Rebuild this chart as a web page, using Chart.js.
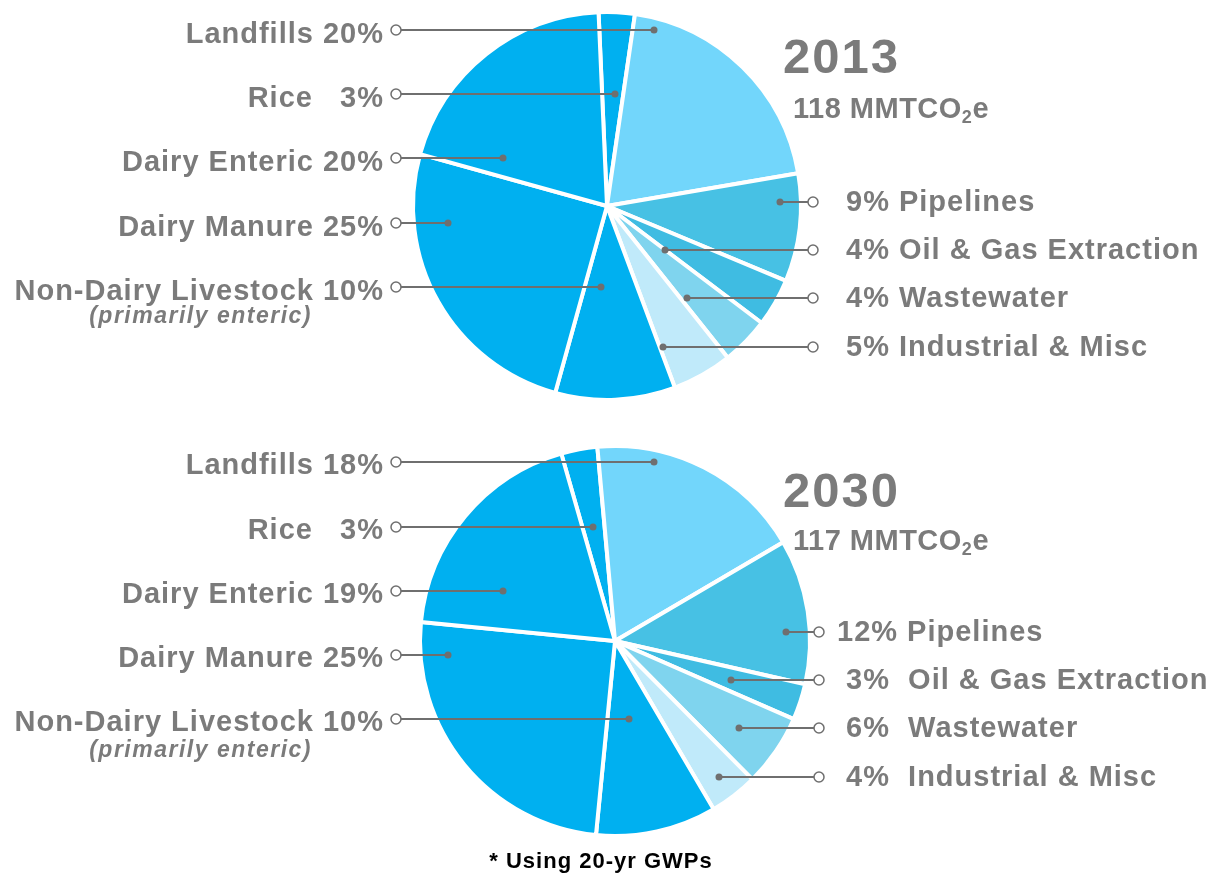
<!DOCTYPE html>
<html>
<head>
<meta charset="utf-8">
<title>California methane emissions 2013 / 2030</title>
<script src="https://cdn.jsdelivr.net/npm/chart.js@4"></script>
<style>
  html, body { margin: 0; padding: 0; background: #fff; }
  #wrap { position: relative; width: 1219px; height: 873px; }
  #wrap canvas { position: absolute; left: 0; top: 0; }
</style>
</head>
<body>
<div id="wrap">
  <canvas id="pie2013" width="1219" height="873"></canvas>
  <canvas id="pie2030" width="1219" height="873"></canvas>
</div>
<script>
// slices go clockwise from roughly 12 o'clock
const categories = ['Rice', 'Landfills', 'Pipelines', 'Oil & Gas Extraction', 'Wastewater',
                    'Industrial & Misc', 'Non-Dairy Livestock', 'Dairy Manure', 'Dairy Enteric'];
const values2013 = [3, 20, 9, 4, 4, 5, 10, 25, 20];
const values2030 = [3, 18, 12, 3, 6, 4, 10, 25, 19];
const years = ['2013', '2030'];
const totals = [118, 117];
const sliceColors = ['#00b0f0', '#72d6fb', '#47c1e4', '#3fbce2', '#7fd4ee',
                     '#c0eafa', '#00b0f0', '#00b0f0', '#00b0f0'];

const textGrey = '#7b7b7b';
const lineGrey = '#6f6f6f';
const labelFont = 'bold 29px "Liberation Sans", Arial, sans-serif';

// leader lines: dot offset from the pie centre, label on the left or right
const leaders2013 = [
  { i: 1, side: 'left',  dx: 47,   dy: -176, gap: ' ' },
  { i: 0, side: 'left',  dx: 8,    dy: -112, gap: '   ' },
  { i: 8, side: 'left',  dx: -104, dy: -48,  gap: ' ' },
  { i: 7, side: 'left',  dx: -159, dy: 17,   gap: ' ' },
  { i: 6, side: 'left',  dx: -6,   dy: 81,   gap: ' ', note: '(primarily enteric)' },
  { i: 2, side: 'right', dx: 173,  dy: -4,   gap: ' ', lead: '' },
  { i: 3, side: 'right', dx: 58,   dy: 44,   gap: ' ', lead: '' },
  { i: 4, side: 'right', dx: 80,   dy: 92,   gap: ' ', lead: '' },
  { i: 5, side: 'right', dx: 56,   dy: 141,  gap: ' ', lead: '' }
];
const leaders2030 = [
  { i: 1, side: 'left',  dx: 39,   dy: -179, gap: ' ' },
  { i: 0, side: 'left',  dx: -22,  dy: -114, gap: '   ' },
  { i: 8, side: 'left',  dx: -112, dy: -50,  gap: ' ' },
  { i: 7, side: 'left',  dx: -167, dy: 14,   gap: ' ' },
  { i: 6, side: 'left',  dx: 14,   dy: 78,   gap: ' ', note: '(primarily enteric)' },
  { i: 2, side: 'right', dx: 171,  dy: -9,   gap: ' ', lead: '' },
  { i: 3, side: 'right', dx: 116,  dy: 39,   gap: '  ', lead: ' ' },
  { i: 4, side: 'right', dx: 124,  dy: 87,   gap: '  ', lead: ' ' },
  { i: 5, side: 'right', dx: 104,  dy: 136,  gap: '  ', lead: ' ' }
];

const leaderPlugin = {
  id: 'leaders',
  afterDatasetsDraw(chart, args, opts) {
    const ctx = chart.ctx;
    const arc = chart.getDatasetMeta(0).data[0];
    const cx = arc.x, cy = arc.y;
    const vals = chart.data.datasets[0].data;
    ctx.save();
    opts.leaders.forEach(l => {
      const y = cy + l.dy;
      const dotX = cx + l.dx;
      const ringX = l.side === 'left' ? opts.leftRingX : opts.rightRingX;
      ctx.strokeStyle = lineGrey;
      ctx.lineWidth = 2;
      ctx.beginPath();
      ctx.moveTo(dotX, y);
      ctx.lineTo(ringX, y);
      ctx.stroke();
      ctx.fillStyle = lineGrey;
      ctx.beginPath();
      ctx.arc(dotX, y, 3.5, 0, Math.PI * 2);
      ctx.fill();
      ctx.fillStyle = '#fff';
      ctx.lineWidth = 1.5;
      ctx.beginPath();
      ctx.arc(ringX, y, 5, 0, Math.PI * 2);
      ctx.fill();
      ctx.stroke();

      ctx.fillStyle = textGrey;
      ctx.font = labelFont;
      ctx.letterSpacing = '1px';
      ctx.textBaseline = 'alphabetic';
      if (l.side === 'left') {
        ctx.textAlign = 'right';
        ctx.fillText(categories[l.i] + l.gap + vals[l.i] + '%', opts.leftTextX, y + opts.leftShift);
        if (l.note) {
          ctx.font = 'italic bold 23px "Liberation Sans", Arial, sans-serif';
          ctx.letterSpacing = '1.5px';
          ctx.fillText(l.note, opts.noteX, y + opts.noteShift);
        }
      } else {
        ctx.textAlign = 'left';
        ctx.fillText(l.lead + vals[l.i] + '%' + l.gap + categories[l.i], opts.rightTextX, y + opts.rightShift);
      }
    });

    // year and total
    ctx.textAlign = 'left';
    ctx.fillStyle = textGrey;
    ctx.font = 'bold 49px "Liberation Sans", Arial, sans-serif';
    ctx.letterSpacing = '2px';
    ctx.fillText(opts.year, opts.titleX, opts.titleY);
    ctx.font = 'bold 29px "Liberation Sans", Arial, sans-serif';
    ctx.letterSpacing = '0.5px';
    let x = opts.totalX;
    const head = opts.total + ' MMTCO';
    ctx.fillText(head, x, opts.totalY);
    x += ctx.measureText(head).width;
    ctx.font = 'bold 18px "Liberation Sans", Arial, sans-serif';
    ctx.fillText('2', x, opts.totalY + 5);
    x += ctx.measureText('2').width;
    ctx.font = 'bold 29px "Liberation Sans", Arial, sans-serif';
    ctx.fillText('e', x, opts.totalY);

    if (opts.footnote) {
      ctx.fillStyle = '#000';
      ctx.textAlign = 'center';
      ctx.font = 'bold 22px "Liberation Sans", Arial, sans-serif';
      ctx.letterSpacing = '1px';
      ctx.fillText(opts.footnote, 601, 868);
    }
    ctx.restore();
  }
};

function makePie(id, values, rotation, radius, padding, plugOpts) {
  return new Chart(document.getElementById(id), {
    type: 'pie',
    data: {
      labels: categories,
      datasets: [{
        data: values,
        backgroundColor: sliceColors,
        borderColor: '#ffffff',
        borderWidth: 4,
        hoverOffset: 0
      }]
    },
    options: {
      responsive: false,
      animation: false,
      events: [],
      rotation: rotation,
      radius: radius,
      layout: { padding: padding },
      plugins: {
        legend: { display: false },
        tooltip: { enabled: false },
        leaders: plugOpts
      }
    },
    plugins: [leaderPlugin]
  });
}

makePie('pie2013', values2013, -2.5, 194,
  { left: 407, right: 412, top: 6, bottom: 467 },
  { leaders: leaders2013, leftRingX: 396, rightRingX: 813, leftTextX: 384, rightTextX: 846,
    leftShift: 13, rightShift: 9, noteX: 312, noteShift: 36,
    year: years[0], total: totals[0], titleX: 783, titleY: 73, totalX: 793, totalY: 118 });

makePie('pie2030', values2030, -16, 195,
  { left: 415, right: 404, top: 441, bottom: 32 },
  { leaders: leaders2030, leftRingX: 396, rightRingX: 819, leftTextX: 384, rightTextX: 837,
    leftShift: 12, rightShift: 9, noteX: 312, noteShift: 38,
    year: years[1], total: totals[1], titleX: 783, titleY: 507, totalX: 793, totalY: 550,
    footnote: '* Using 20-yr GWPs' });
</script>
</body>
</html>
